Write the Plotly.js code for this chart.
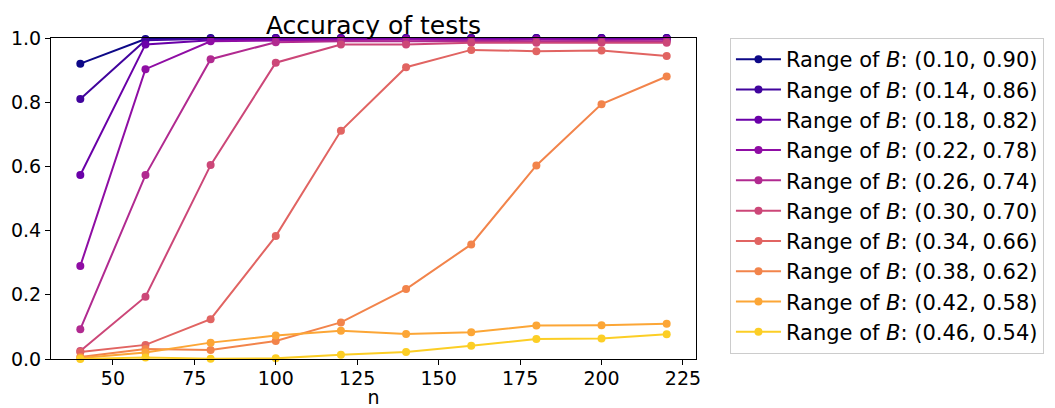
<!DOCTYPE html>
<html>
<head>
<meta charset="utf-8">
<script src="https://cdn.plot.ly/plotly-3.0.1.min.js"></script>
<style>html,body{margin:0;padding:0;background:#fff;}#chart{width:1055px;height:408px;}</style>
</head>
<body>
<div id="chart"></div>
<script>
const nValues = [40, 60, 80, 100, 120, 140, 160, 180, 200, 220];
const rangeLabels = ["(0.10, 0.90)", "(0.14, 0.86)", "(0.18, 0.82)", "(0.22, 0.78)", "(0.26, 0.74)",
                     "(0.30, 0.70)", "(0.34, 0.66)", "(0.38, 0.62)", "(0.42, 0.58)", "(0.46, 0.54)"];
const acc010 = [0.920, 0.997, 1.000, 1.000, 1.000, 1.000, 1.000, 1.000, 1.000, 1.000];
const acc014 = [0.810, 0.993, 0.998, 1.000, 1.000, 1.000, 1.000, 1.000, 1.000, 1.000];
const acc018 = [0.573, 0.980, 0.993, 0.997, 0.998, 0.998, 0.998, 0.997, 0.998, 0.997];
const acc022 = [0.290, 0.903, 0.990, 0.992, 0.995, 0.995, 0.993, 0.995, 0.994, 0.995];
const acc026 = [0.093, 0.573, 0.934, 0.987, 0.990, 0.990, 0.990, 0.990, 0.990, 0.990];
const acc030 = [0.025, 0.194, 0.604, 0.923, 0.980, 0.980, 0.985, 0.985, 0.985, 0.985];
const acc034 = [0.022, 0.044, 0.124, 0.383, 0.711, 0.909, 0.963, 0.959, 0.961, 0.944];
const acc038 = [0.006, 0.031, 0.028, 0.056, 0.114, 0.218, 0.357, 0.603, 0.794, 0.880];
const acc042 = [0.003, 0.020, 0.051, 0.073, 0.088, 0.078, 0.083, 0.104, 0.105, 0.110];
const acc046 = [0.000, 0.005, 0.001, 0.002, 0.013, 0.022, 0.041, 0.062, 0.064, 0.077];
const series = [acc010, acc014, acc018, acc022, acc026, acc030, acc034, acc038, acc042, acc046];
const colors = ["#0d0887", "#41049d", "#6a00a8", "#8f0da4", "#b12a90",
                "#cc4778", "#e16462", "#f2844b", "#fca636", "#fcce25"];
const xTicks = [50, 75, 100, 125, 150, 175, 200, 225];
const yTicks = [0, 0.2, 0.4, 0.6, 0.8, 1.0];

const font = "DejaVu Sans, sans-serif";
const traces = series.map((ys, i) => ({
  x: nValues, y: ys, type: "scatter", mode: "lines+markers",
  name: "Range of <i>B</i>: " + rangeLabels[i],
  line: {color: colors[i], width: 2},
  marker: {color: colors[i], size: 8},
  cliponaxis: false
}));

const layout = {
  width: 1055, height: 408,
  margin: {l: 51, r: 358, t: 38, b: 49},
  paper_bgcolor: "#fff", plot_bgcolor: "#fff",
  font: {family: font, color: "#000", size: 19},
  title: {text: "Accuracy of tests", font: {family: font, size: 25, color: "#000"},
          x: 0.5, xref: "paper", xanchor: "center", y: 1, yref: "paper", yanchor: "bottom", pad: {b: 4}},
  xaxis: {range: [31, 229], tickvals: xTicks, ticktext: xTicks.map(String),
          showgrid: false, zeroline: false, showline: true, mirror: true, linecolor: "#000", linewidth: 1,
          ticks: "outside", ticklen: 5, tickcolor: "#000", tickfont: {size: 19}, ticklabelstandoff: -3,
          title: {text: "n", font: {size: 19}, standoff: 19}},
  yaxis: {range: [0, 1], tickvals: yTicks, ticktext: yTicks.map(v => v.toFixed(1)),
          showgrid: false, zeroline: false, showline: true, mirror: true, linecolor: "#000", linewidth: 1,
          ticks: "outside", ticklen: 5, tickcolor: "#000", tickfont: {size: 19}},
  showlegend: true,
  legend: {x: 1.051, xanchor: "left", y: 1, yanchor: "top", bordercolor: "#cccccc", borderwidth: 1,
           bgcolor: "#fff", font: {size: 21, family: font}, tracegroupgap: 0, itemwidth: 45}
};
Plotly.newPlot("chart", traces, layout, {staticPlot: true, displayModeBar: false});
</script>
</body>
</html>
